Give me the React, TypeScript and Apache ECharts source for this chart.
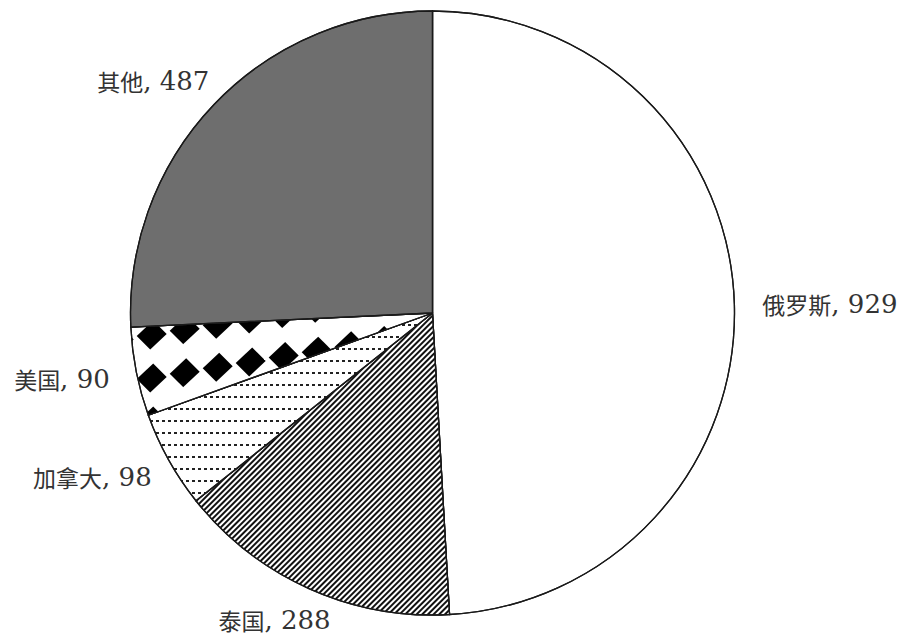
import React, { useEffect, useRef } from 'react';
import * as echarts from 'echarts';

const categories = ['俄罗斯', '泰国', '加拿大', '美国', '其他'];
const values = [929, 288, 98, 90, 487];

// sheared diamond lattice tile: 8 columns of 33px, rows 43px apart, each column 43/8 px higher
function diamondTile(): HTMLCanvasElement {
  const tw = 264, th = 43, cols = 8, step = 33;
  const cv = document.createElement('canvas');
  cv.width = tw;
  cv.height = th;
  const ctx = cv.getContext('2d') as CanvasRenderingContext2D;
  ctx.fillStyle = '#ffffff';
  ctx.fillRect(0, 0, tw, th);
  ctx.fillStyle = '#000000';
  const hw = 15, hh = 14.5;
  for (let i = 0; i < cols; i++) {
    const x0 = (151.7 + step * i) % tw;
    const y0 = (((378 - (th / cols) * i) % th) + th) % th;
    for (let a = -1; a <= 1; a++) {
      for (let b = -1; b <= 1; b++) {
        const x = x0 + a * tw, y = y0 + b * th;
        ctx.beginPath();
        ctx.moveTo(x + 1.5, y - hh);
        ctx.lineTo(x + hw, y - 1);
        ctx.lineTo(x - 1.5, y + hh);
        ctx.lineTo(x - hw, y + 1);
        ctx.closePath();
        ctx.fill();
      }
    }
  }
  return cv;
}

export default function App() {
  const ref = useRef<HTMLDivElement>(null);
  useEffect(() => {
    document.body.style.margin = '0';
    const chart = echarts.init(ref.current as HTMLDivElement, null, { renderer: 'svg' });
    const cx = 432.5, cy = 313, r = 302, gap = 28;
    const total = values.reduce((a, b) => a + b, 0);
    const mids: number[] = [];
    let acc = 0;
    values.forEach((v) => { mids.push(((acc + v / 2) / total) * 2 * Math.PI); acc += v; });

    const colors: any[] = [
      '#ffffff',
      '#ffffff',
      '#ffffff',
      { image: diamondTile(), repeat: 'repeat' },
      '#6e6e6e',
    ];
    const decals: any[] = [
      { symbol: 'none' },
      { symbol: 'rect', color: '#111', dashArrayX: [1, 0], dashArrayY: [1.1, 2], rotation: -Math.PI / 4, symbolSize: 1 },
      { symbol: 'rect', color: '#222', dashArrayX: [3, 2.5], dashArrayY: [1.5, 9.5], rotation: 0, symbolSize: 1 },
      { symbol: 'none' },
      { symbol: 'none' },
    ];

    chart.setOption({
      animation: false,
      aria: { enabled: true, decal: { show: true } },
      series: [
        {
          type: 'pie',
          center: [cx, cy],
          radius: r,
          startAngle: 90,
          clockwise: true,
          avoidLabelOverlap: false,
          emphasis: { disabled: true },
          data: categories.map((name, i) => ({
            name,
            value: values[i],
            itemStyle: { color: colors[i], decal: decals[i] },
          })),
          itemStyle: { borderColor: '#1a1a1a', borderWidth: 1.3 },
          label: {
            show: true,
            position: 'outside',
            formatter: '{n|{b}}{v|, {c}}',
            rich: {
              n: { fontFamily: 'Noto Sans CJK SC', fontSize: 23, color: '#333', lineHeight: 26 },
              v: { fontFamily: 'DejaVu Serif', fontSize: 26, color: '#333', lineHeight: 26 },
            },
          },
          labelLine: { show: false },
          labelLayout: (p: any) => {
            const a = mids[p.dataIndex];
            const dx = Math.sin(a), dy = -Math.cos(a);
            const w = p.labelRect.width, h = p.labelRect.height;
            return {
              x: cx + dx * (r + gap) + (dx * w) / 2,
              y: cy + dy * (r + gap) + dy * h * 0.25,
              align: 'center',
              verticalAlign: 'middle',
            };
          },
        },
      ],
    });
    return () => chart.dispose();
  }, []);
  return <div ref={ref} style={{ position: 'absolute', left: 0, top: 0, width: 905, height: 642 }} />;
}
